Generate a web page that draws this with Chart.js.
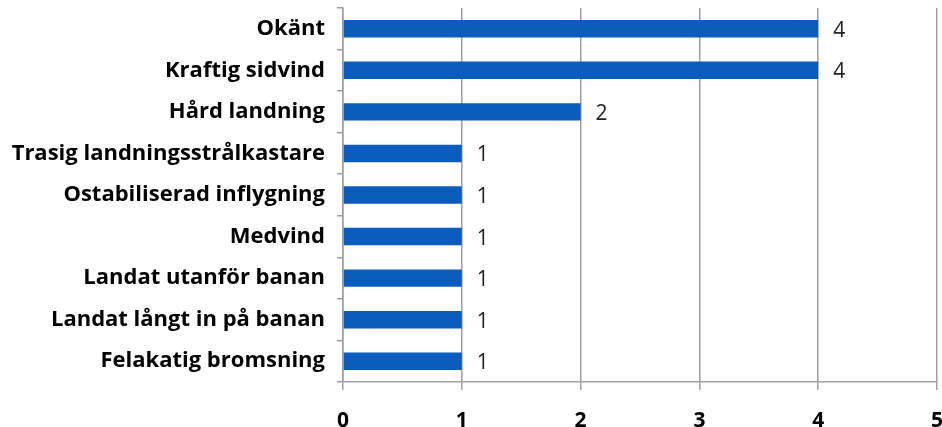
<!DOCTYPE html>
<html><head><meta charset="utf-8">
<script src="https://cdn.jsdelivr.net/npm/chart.js@4"></script>
<style>html,body{margin:0;padding:0;background:#fff}#w{width:942px;height:427px}</style>
</head><body><div id="w"><canvas id="c"></canvas></div>
<script>
const categories = ["Okänt","Kraftig sidvind","Hård landning","Trasig landningsstrålkastare","Ostabiliserad inflygning","Medvind","Landat utanför banan","Landat långt in på banan","Felakatig bromsning"];
const values = [4,4,2,1,1,1,1,1,1];
const xTicks = [0,1,2,3,4,5];

const labelPlugin = {
  id:'vals',
  afterDatasetsDraw(chart){
    const ctx = chart.ctx;
    const meta = chart.getDatasetMeta(0);
    ctx.save();
    ctx.font = '21px "Open Sans"';
    ctx.fillStyle = '#222';
    ctx.textAlign = 'left';
    ctx.textBaseline = 'middle';
    meta.data.forEach((bar,i)=>{
      ctx.fillText(String(values[i]), bar.x + 15, bar.y + 2);
    });
    ctx.restore();
  }
};

new Chart(document.getElementById('c'), {
  type:'bar',
  data:{labels:categories, datasets:[{data:values, backgroundColor:'#0A5DBD', borderWidth:0, barPercentage:0.42, categoryPercentage:1}]},
  options:{
    indexAxis:'y', responsive:true, maintainAspectRatio:false, animation:false,
    layout:{padding:{top:8,right:5,left:0,bottom:0}},
    plugins:{legend:{display:false}, tooltip:{enabled:false}},
    scales:{
      x:{min:0,max:5,
        afterBuildTicks(s){ s.ticks = xTicks.map(v=>({value:v})); },
        afterFit(s){ s.height = 45; s.paddingLeft=0; s.paddingRight=0; },
        grid:{color:'#9E9E9E', lineWidth:1.5, tickLength:8, drawTicks:true},
        border:{color:'#9E9E9E', width:1.5},
        ticks:{color:'#000', font:{family:'"Open Sans"', size:21, weight:'bold'}, padding:18, maxRotation:0, autoSkip:false}
      },
      y:{
        afterFit(s){ s.width = 343; s.paddingTop=0; s.paddingBottom=0; },
        grid:{drawOnChartArea:false, color:'#9E9E9E', lineWidth:1.5, tickLength:6, offset:true},
        border:{color:'#9E9E9E', width:1.5},
        ticks:{color:'#000', font:{family:'"Open Sans"', size:22, weight:'bold'}, padding:12, autoSkip:false}
      }
    }
  },
  plugins:[labelPlugin]
});
</script></body></html>
